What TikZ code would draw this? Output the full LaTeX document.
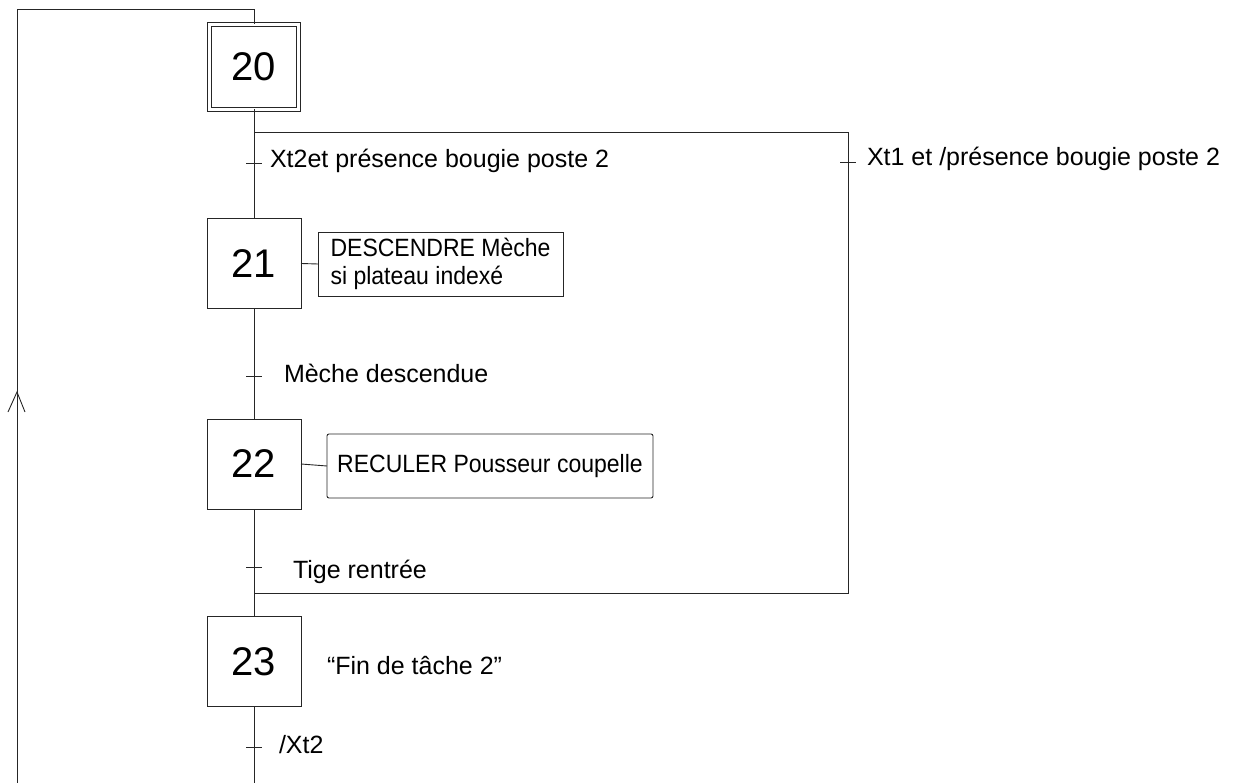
\documentclass[tikz,border=0pt]{standalone}
\usepackage{fontspec}
\setmainfont{Liberation Sans}
\newfontfamily\actfont[FakeStretch=0.92]{Liberation Sans}
\begin{document}
\begin{tikzpicture}[x=1pt,y=-1pt,
  line width=0.9pt, draw=black!85,
  every node/.style={inner sep=0pt, outer sep=0pt},
  stepbox/.style={draw=black!85, minimum width=94pt, minimum height=90pt,
    font=\fontsize{40}{40}\selectfont},
  initbox/.style={draw=black!85, double, double distance=3.4pt, line width=0.8pt,
    minimum width=89pt, minimum height=85pt, font=\fontsize{40}{40}\selectfont},
  actbox/.style={draw=black!85, minimum height=64pt, align=left,
    font=\actfont\fontsize{25}{28}\selectfont},
  trlabel/.style={anchor=base west, font=\fontsize{25}{25}\selectfont},
  trtick/.style={draw=black!85, line width=0.8pt}
]
\useasboundingbox (0,0) rectangle (1242,783);

% steps
\node[initbox]  (s20) at (254,67)    {20};
\node[stepbox]  (s21) at (254,263.5) {21};
\node[stepbox]  (s22) at (254,464)   {22};
\node[stepbox]  (s23) at (254,661.5) {23};

% actions
\node[actbox, minimum width=245pt] (a21) at (440.5,264)
  {DESCENDRE Mèche\\si plateau indexé};
\node[actbox, minimum width=326pt, rounded corners=2pt] (a22) at (490,466)
  {RECULER Pousseur coupelle};
\node[trlabel] (a23) at (327,674) {“Fin de tâche 2”};

\draw (s21.east) -- (a21.west);
\draw (s22.east) -- (a22.west);

% loop back to the initial step
\coordinate (top)  at (254,9);
\coordinate (ltop) at (17,9);
\coordinate (lbot) at (17,783);
\coordinate (mbot) at (254,783);
\draw (lbot) -- (ltop) -- (top) -- (s20.north);
\coordinate (arrtip) at (17,392);
\draw ([xshift=-9pt,yshift=-20pt]arrtip) -- (arrtip) -- ([xshift=8pt,yshift=-20pt]arrtip);

% main sequence
\draw (s20.south) -- (s21.north);
\draw (s21.south) -- (s22.north);
\draw (s22.south) -- (s23.north);
\draw (s23.south) -- (mbot);

% alternative branch (selection of sequence)
\coordinate (div)  at (254,132);
\coordinate (divr) at (848,132);
\coordinate (conr) at (848,593);
\coordinate (con)  at (254,593);
\draw (div) -- (divr) -- (conr) -- (con);

% transitions
\coordinate (c1)  at (254,163);
\coordinate (c1r) at (848,162);
\coordinate (c2)  at (254,376);
\coordinate (c3)  at (254,567);
\coordinate (c4)  at (254,747);
\foreach \c in {c1,c1r,c2,c3,c4}
  \draw[trtick] ([xshift=-8pt]\c) -- ([xshift=8pt]\c);

\node[trlabel] (t1)  at (270,168) {Xt2et présence bougie poste 2};
\node[trlabel] (t1r) at (867,166) {Xt1 et /présence bougie poste 2};
\node[trlabel] (t2)  at (284,383) {Mèche descendue};
\node[trlabel] (t3)  at (293,578) {Tige rentrée};
\node[trlabel] (t4)  at (279,753) {/Xt2};
\end{tikzpicture}
\end{document}
